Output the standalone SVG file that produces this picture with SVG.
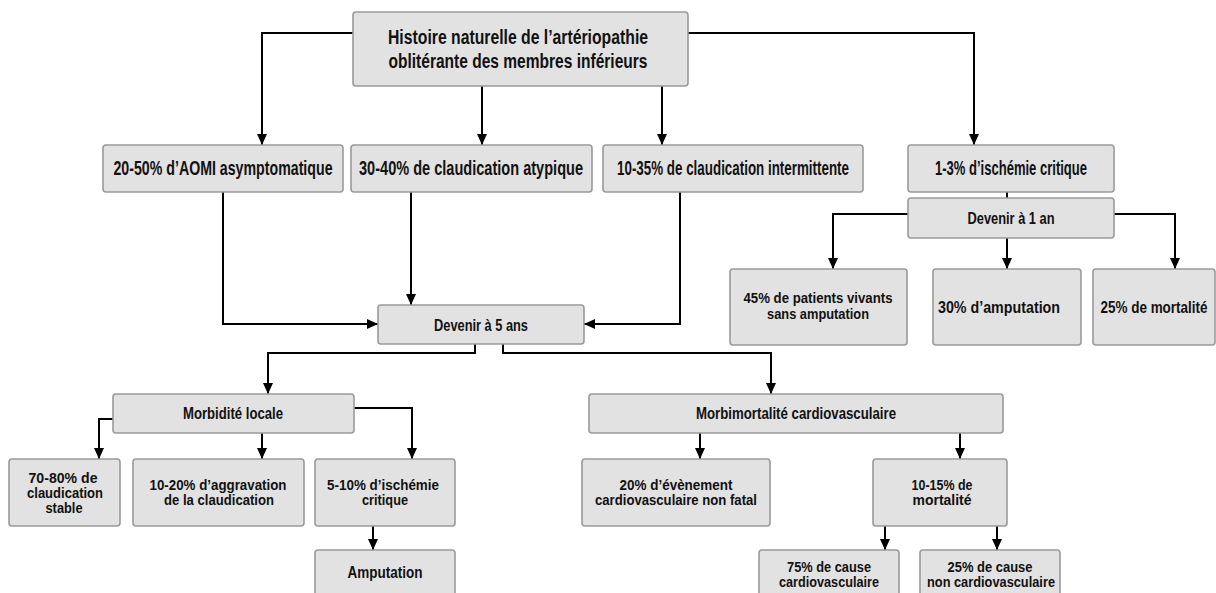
<svg xmlns="http://www.w3.org/2000/svg" width="1216" height="593" viewBox="0 0 1216 593">
<style>
.box{fill:#e2e2e2;stroke:#9a9a9a;stroke-width:1.6}
text{font-family:"Liberation Sans",Arial,sans-serif;font-weight:bold;fill:#111;text-anchor:middle}
.t1{font-size:21px}
.t2{font-size:19.5px}
.t3{font-size:17px}
.t4{font-size:15px}
.c{fill:none;stroke:#000;stroke-width:2}
</style>
<defs>
<marker id="ah" markerUnits="userSpaceOnUse" markerWidth="12" markerHeight="12" viewBox="0 0 12 12" refX="11" refY="6" orient="auto">
<path d="M0,1 L11,6 L0,11 Z" fill="#000"/>
</marker>
</defs>
<rect width="1216" height="593" fill="#fff"/>
<g id="connectors">
<path class="c" d="M353,33 H262 V145" marker-end="url(#ah)"/>
<path class="c" d="M688,33 H974 V145" marker-end="url(#ah)"/>
<path class="c" d="M482,86 V145" marker-end="url(#ah)"/>
<path class="c" d="M662,86 V145" marker-end="url(#ah)"/>
<path class="c" d="M1007,192 V198"/>
<path class="c" d="M908,214 H833 V269" marker-end="url(#ah)"/>
<path class="c" d="M1007,238 V269" marker-end="url(#ah)"/>
<path class="c" d="M1114,214 H1175 V269" marker-end="url(#ah)"/>
<path class="c" d="M223,192 V324 H378" marker-end="url(#ah)"/>
<path class="c" d="M411,192 V305" marker-end="url(#ah)"/>
<path class="c" d="M680,192 V324 H584" marker-end="url(#ah)"/>
<path class="c" d="M475,344 V353 H268 V394" marker-end="url(#ah)"/>
<path class="c" d="M503,344 V353 H771 V394" marker-end="url(#ah)"/>
<path class="c" d="M113,419 H99 V459" marker-end="url(#ah)"/>
<path class="c" d="M262,433 V459" marker-end="url(#ah)"/>
<path class="c" d="M354,408 H412 V459" marker-end="url(#ah)"/>
<path class="c" d="M373,526 V550" marker-end="url(#ah)"/>
<path class="c" d="M700,433 V459" marker-end="url(#ah)"/>
<path class="c" d="M960,433 V459" marker-end="url(#ah)"/>
<path class="c" d="M885,526 V550" marker-end="url(#ah)"/>
<path class="c" d="M997,526 V550" marker-end="url(#ah)"/>
</g>
<g id="n-top"><rect class="box" x="353" y="12" width="335" height="74" rx="3"/>
<text class="t1" transform="translate(518,44) scale(0.74,1)" textLength="351.4" lengthAdjust="spacingAndGlyphs">Histoire naturelle de l’artériopathie</text>
<text class="t1" transform="translate(518,68) scale(0.74,1)" textLength="350" lengthAdjust="spacingAndGlyphs">oblitérante des membres inférieurs</text></g>
<g id="n-asympto"><rect class="box" x="103" y="145" width="240" height="47" rx="3"/>
<text class="t2" transform="translate(223,175) scale(0.74,1)" textLength="296" lengthAdjust="spacingAndGlyphs">20-50% d’AOMI asymptomatique</text></g>
<g id="n-atypique"><rect class="box" x="351" y="145" width="241" height="47" rx="3"/>
<text class="t2" transform="translate(471,175) scale(0.74,1)" textLength="302.7" lengthAdjust="spacingAndGlyphs">30-40% de claudication atypique</text></g>
<g id="n-intermittente"><rect class="box" x="603" y="145" width="260" height="47" rx="3"/>
<text class="t2" transform="translate(733,175) scale(0.74,1)" textLength="313.5" lengthAdjust="spacingAndGlyphs">10-35% de claudication intermittente</text></g>
<g id="n-ischemie"><rect class="box" x="908" y="145" width="206" height="47" rx="3"/>
<text class="t2" transform="translate(1011,175) scale(0.74,1)" textLength="205.4" lengthAdjust="spacingAndGlyphs">1-3% d’ischémie critique</text></g>
<g id="n-1an"><rect class="box" x="908" y="198" width="206" height="40" rx="3"/>
<text class="t3" transform="translate(1011,224) scale(0.74,1)" textLength="117.6" lengthAdjust="spacingAndGlyphs">Devenir à 1 an</text></g>
<g id="n-vivants"><rect class="box" x="730" y="269" width="177" height="76" rx="3"/>
<text class="t4" transform="translate(818,303) scale(0.74,1)" textLength="201.4" lengthAdjust="spacingAndGlyphs">45% de patients vivants</text>
<text class="t4" transform="translate(818,319) scale(0.74,1)" textLength="137.8" lengthAdjust="spacingAndGlyphs">sans amputation</text></g>
<g id="n-amput30"><rect class="box" x="933" y="269" width="148" height="76" rx="3"/>
<text class="t3" transform="translate(999,313) scale(0.74,1)" textLength="164.9" lengthAdjust="spacingAndGlyphs">30% d’amputation</text></g>
<g id="n-mort25"><rect class="box" x="1093" y="269" width="122" height="76" rx="3"/>
<text class="t3" transform="translate(1154,313) scale(0.74,1)" textLength="144.6" lengthAdjust="spacingAndGlyphs">25% de mortalité</text></g>
<g id="n-5ans"><rect class="box" x="378" y="305" width="206" height="39" rx="3"/>
<text class="t3" transform="translate(481,331) scale(0.74,1)" textLength="127" lengthAdjust="spacingAndGlyphs">Devenir à 5 ans</text></g>
<g id="n-morbloc"><rect class="box" x="113" y="394" width="241" height="39" rx="3"/>
<text class="t3" transform="translate(233,419) scale(0.74,1)" textLength="135.1" lengthAdjust="spacingAndGlyphs">Morbidité locale</text></g>
<g id="n-morbcv"><rect class="box" x="589" y="394" width="414" height="39" rx="3"/>
<text class="t3" transform="translate(796,419) scale(0.74,1)" textLength="270.3" lengthAdjust="spacingAndGlyphs">Morbimortalité cardiovasculaire</text></g>
<g id="n-stable"><rect class="box" x="9" y="459" width="111" height="67" rx="3"/>
<text class="t4" transform="translate(63,483) scale(0.74,1)" textLength="93.2" lengthAdjust="spacingAndGlyphs">70-80% de</text>
<text class="t4" transform="translate(65,498) scale(0.74,1)" textLength="102.7" lengthAdjust="spacingAndGlyphs">claudication</text>
<text class="t4" transform="translate(64,513) scale(0.74,1)" textLength="50" lengthAdjust="spacingAndGlyphs">stable</text></g>
<g id="n-aggrav"><rect class="box" x="133" y="459" width="171" height="67" rx="3"/>
<text class="t4" transform="translate(218,490) scale(0.74,1)" textLength="185.1" lengthAdjust="spacingAndGlyphs">10-20% d’aggravation</text>
<text class="t4" transform="translate(219,505) scale(0.74,1)" textLength="148.6" lengthAdjust="spacingAndGlyphs">de la claudication</text></g>
<g id="n-isch510"><rect class="box" x="315" y="459" width="140" height="67" rx="3"/>
<text class="t4" transform="translate(383,490) scale(0.74,1)" textLength="151.4" lengthAdjust="spacingAndGlyphs">5-10% d’ischémie</text>
<text class="t4" transform="translate(385,505) scale(0.74,1)" textLength="62.2" lengthAdjust="spacingAndGlyphs">critique</text></g>
<g id="n-amputation"><rect class="box" x="315" y="550" width="140" height="60" rx="3"/>
<text class="t3" transform="translate(385,578) scale(0.74,1)" textLength="101.4" lengthAdjust="spacingAndGlyphs">Amputation</text></g>
<g id="n-evenement"><rect class="box" x="582" y="459" width="188" height="67" rx="3"/>
<text class="t4" transform="translate(676,490) scale(0.74,1)" textLength="152.7" lengthAdjust="spacingAndGlyphs">20% d’évènement</text>
<text class="t4" transform="translate(676,505) scale(0.74,1)" textLength="218.9" lengthAdjust="spacingAndGlyphs">cardiovasculaire non fatal</text></g>
<g id="n-mort1015"><rect class="box" x="873" y="459" width="134" height="67" rx="3"/>
<text class="t4" transform="translate(942,490) scale(0.74,1)" textLength="82.4" lengthAdjust="spacingAndGlyphs">10-15% de</text>
<text class="t4" transform="translate(942,505) scale(0.74,1)" textLength="79.7" lengthAdjust="spacingAndGlyphs">mortalité</text></g>
<g id="n-cause75"><rect class="box" x="759" y="550" width="140" height="60" rx="3"/>
<text class="t4" transform="translate(829,572) scale(0.74,1)" textLength="113.5" lengthAdjust="spacingAndGlyphs">75% de cause</text>
<text class="t4" transform="translate(829,587) scale(0.74,1)" textLength="135.1" lengthAdjust="spacingAndGlyphs">cardiovasculaire</text></g>
<g id="n-cause25"><rect class="box" x="920" y="550" width="140" height="60" rx="3"/>
<text class="t4" transform="translate(990,572) scale(0.74,1)" textLength="114.9" lengthAdjust="spacingAndGlyphs">25% de cause</text>
<text class="t4" transform="translate(991,587) scale(0.74,1)" textLength="173" lengthAdjust="spacingAndGlyphs">non cardiovasculaire</text></g>
</svg>
